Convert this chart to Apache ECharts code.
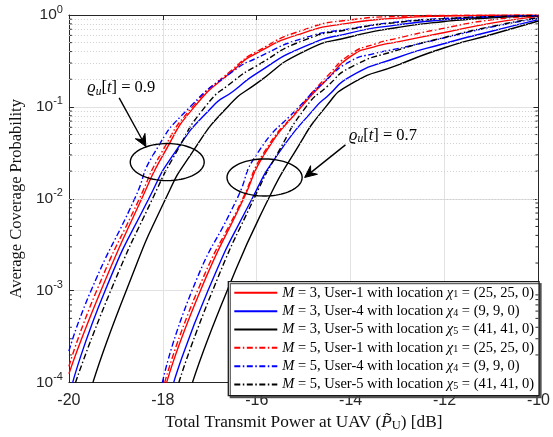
<!DOCTYPE html>
<html><head><meta charset="utf-8">
<script src="https://cdn.jsdelivr.net/npm/echarts@6/dist/echarts.min.js"></script>
<style>html,body{margin:0;padding:0;background:#fff}#c{width:553px;height:437px}</style>
</head><body><div id="c"></div>
<script>
// ---------- axis ticks ----------
const xTickValues = [-20, -18, -16, -14, -12, -10];
const yDecades = [1e-4, 1e-3, 1e-2, 1e-1, 1];

// ---------- legend entries ----------
const legendKeys = ['M3U1', 'M3U4', 'M3U5', 'M5U1', 'M5U4', 'M5U5'];
const legendTexts = [
  '{i|M} = 3, User-1 with location {i|χ}{sub|1} = (25, 25, 0)',
  '{i|M} = 3, User-4 with location {i|χ}{sub|4} = (9, 9, 0)',
  '{i|M} = 3, User-5 with location {i|χ}{sub|5} = (41, 41, 0)',
  '{i|M} = 5, User-1 with location {i|χ}{sub|1} = (25, 25, 0)',
  '{i|M} = 5, User-4 with location {i|χ}{sub|4} = (9, 9, 0)',
  '{i|M} = 5, User-5 with location {i|χ}{sub|5} = (41, 41, 0)'
];

// ---------- curves, rho = 0.9 (left group): [dB, probability] ----------
const m3u1_rho09 = [[-20, 1.25e-4], [-19.32, 1e-3], [-18.45, 1e-2], [-17.97, 0.0316], [-17.33, 0.1], [-16.5, 0.25], [-16, 0.385], [-15, 0.64], [-14, 0.82], [-13, 0.925], [-12, 0.975], [-11, 0.992], [-10, 0.998]];
const m3u4_rho09 = [[-19.92, 1e-4], [-19.23, 1e-3], [-18.3, 1e-2], [-17.75, 0.0316], [-16.95, 0.1], [-16.5, 0.148], [-16, 0.232], [-15, 0.45], [-14, 0.64], [-13, 0.78], [-12, 0.885], [-11, 0.95], [-10, 0.982]];
const m3u5_rho09 = [[-19.49, 1e-4], [-18.78, 1e-3], [-17.94, 1e-2], [-17.38, 0.0316], [-16.62, 0.1], [-16, 0.18], [-15, 0.40], [-14, 0.58], [-13, 0.73], [-12, 0.85], [-11, 0.93], [-10, 0.972]];
const m5u1_rho09 = [[-20, 1.5e-4], [-19.41, 1e-3], [-18.5, 1e-2], [-18.03, 0.0316], [-17.37, 0.1], [-16.5, 0.26], [-16, 0.40], [-15, 0.69], [-14, 0.885], [-13, 0.965], [-12, 0.99], [-11, 0.997], [-10, 0.999]];
const m5u4_rho09 = [[-20, 2.2e-4], [-19.53, 1e-3], [-18.6, 1e-2], [-18.18, 0.0316], [-17.42, 0.1], [-16.5, 0.245], [-16, 0.34], [-15, 0.56], [-14, 0.71], [-13, 0.84], [-12, 0.915], [-11, 0.96], [-10, 0.985]];
const m5u5_rho09 = [[-19.86, 1e-4], [-19.11, 1e-3], [-18.22, 1e-2], [-17.72, 0.0316], [-17.1, 0.1], [-16.5, 0.19], [-16, 0.28], [-15, 0.53], [-14, 0.70], [-13, 0.83], [-12, 0.91], [-11, 0.958], [-10, 0.983]];

// ---------- curves, rho = 0.7 (right group) ----------
const m3u1_rho07 = [[-17.92, 1e-4], [-17.2, 1e-3], [-16.28, 1e-2], [-15.82, 0.0316], [-15.05, 0.1], [-14.5, 0.2], [-14, 0.355], [-13.5, 0.45], [-13, 0.51], [-12, 0.645], [-11, 0.815], [-10, 0.965]];
const m3u4_rho07 = [[-17.77, 1e-4], [-17.04, 1e-3], [-16.1, 1e-2], [-15.53, 0.0316], [-14.74, 0.1], [-14.5, 0.13], [-14, 0.215], [-13, 0.345], [-12, 0.49], [-11, 0.665], [-10, 0.89]];
const m3u5_rho07 = [[-17.37, 1e-4], [-16.63, 1e-3], [-15.75, 1e-2], [-15.2, 0.0316], [-14.53, 0.1], [-14, 0.177], [-13, 0.285], [-12, 0.44], [-11, 0.614], [-10, 0.86]];
const m5u1_rho07 = [[-17.96, 1e-4], [-17.26, 1e-3], [-16.3, 1e-2], [-15.85, 0.0316], [-15.07, 0.1], [-14.5, 0.215], [-14, 0.375], [-13.5, 0.48], [-13, 0.56], [-12, 0.72], [-11, 0.885], [-10, 0.98]];
const m5u4_rho07 = [[-18.01, 1e-4], [-17.38, 1e-3], [-16.42, 1e-2], [-15.98, 0.0316], [-15.1, 0.1], [-14.5, 0.2], [-14, 0.315], [-13.5, 0.38], [-13, 0.43], [-12, 0.565], [-11, 0.74], [-10, 0.925]];
const m5u5_rho07 = [[-17.66, 1e-4], [-16.94, 1e-3], [-16.06, 1e-2], [-15.55, 0.0316], [-14.95, 0.1], [-14.5, 0.167], [-14, 0.27], [-13, 0.415], [-12, 0.57], [-11, 0.75], [-10, 0.935]];

// ---------- annotations (data coordinates) ----------
// ellipse: [centre dB, centre prob, half width dB, half height decades]
const ellipses = [[-17.906, 0.0251, 0.787, 0.2015], [-15.833, 0.01706, 0.80, 0.2015]];
// arrow: [start dB, start prob, tip dB, tip prob]
const arrows = [[-18.93, 0.1255, -18.36, 0.0370], [-14.11, 0.0386, -14.98, 0.01707]];
// label: [dB, prob, text]
const labels = [[-18.885, 0.1603, '{i|ϱ}{sub|u}[{i|t}] = 0.9'], [-13.31, 0.0484, '{i|ϱ}{sub|u}[{i|t}] = 0.7']];

const SERIF = 'Liberation Serif';
const SANS = 'Liberation Sans';

const RED = '#ff0000', BLUE = '#0000ff', BLACK = '#000000';
const DASHDOT = [6, 2.5, 1.5, 2.5];

const curveDefs = [
  ['M3U1', m3u1_rho09, RED, 'solid'], ['M3U1', m3u1_rho07, RED, 'solid'],
  ['M3U4', m3u4_rho09, BLUE, 'solid'], ['M3U4', m3u4_rho07, BLUE, 'solid'],
  ['M3U5', m3u5_rho09, BLACK, 'solid'], ['M3U5', m3u5_rho07, BLACK, 'solid'],
  ['M5U1', m5u1_rho09, RED, DASHDOT], ['M5U1', m5u1_rho07, RED, DASHDOT],
  ['M5U4', m5u4_rho09, BLUE, DASHDOT], ['M5U4', m5u4_rho07, BLUE, DASHDOT],
  ['M5U5', m5u5_rho09, BLACK, DASHDOT], ['M5U5', m5u5_rho07, BLACK, DASHDOT]
];

// minor log grid values (2..9 x each decade)
const yMinor = [];
for (let d = 0; d < yDecades.length - 1; d++) for (let k = 2; k <= 9; k++) yMinor.push(+(k * yDecades[d]).toPrecision(3));

const X_MIN = -20, X_MAX = -10;

const series = curveDefs.map((c, i) => ({
  type: 'line', name: c[0], data: c[1], symbol: 'none', showSymbol: false,
  smooth: 0.6, silent: true, animation: false, z: 3,
  lineStyle: { color: c[2], width: 1.4, type: c[3] }, itemStyle: { color: c[2] }
}));

// minor dotted grid via markLine on a hidden series
series.push({
  type: 'line', name: '_grid', data: [], silent: true, z: 1,
  markLine: { silent: true, symbol: ['none', 'none'], animation: false, label: { show: false },
    lineStyle: { color: '#cfcfcf', width: 1, type: [1, 2] },
    data: yMinor.map(v => ({ yAxis: v })) }
});
// minor ticks
series.push({
  type: 'custom', name: '_ticks', silent: true, z: 4, animation: false,
  data: yMinor.map(v => [X_MIN, v]), encode: { x: 0, y: 1 },
  renderItem(params, api) {
    const l = api.coord([X_MIN, api.value(1)]);
    const r = api.coord([X_MAX, api.value(1)]);
    return { type: 'group', children: [
      { type: 'line', shape: { x1: l[0], y1: l[1], x2: l[0] + 3, y2: l[1] }, style: { stroke: '#262626', lineWidth: 1 } },
      { type: 'line', shape: { x1: r[0], y1: r[1], x2: r[0] - 3, y2: r[1] }, style: { stroke: '#262626', lineWidth: 1 } }
    ] };
  }
});
// ellipses
series.push({
  type: 'custom', name: '_ell', silent: true, z: 5, animation: false, clip: false,
  data: ellipses, encode: { x: 0, y: 1 },
  renderItem(params, api) {
    const cx = api.value(0), cy = api.value(1), rx = api.value(2), ry = api.value(3);
    const c = api.coord([cx, cy]);
    const px = api.coord([cx + rx, cy]);
    const py = api.coord([cx, cy * Math.pow(10, ry)]);
    const a = px[0] - c[0], b = c[1] - py[1];
    const pts = [];
    for (let k = 0; k < 90; k++) { const t = k / 90 * Math.PI * 2; pts.push([c[0] + a * Math.cos(t), c[1] + b * Math.sin(t)]); }
    return { type: 'polygon', shape: { points: pts }, style: { fill: 'none', stroke: '#000', lineWidth: 1.4 } };
  }
});
// arrows
series.push({
  type: 'custom', name: '_arr', silent: true, z: 5, animation: false, clip: false,
  data: arrows, encode: { x: 0, y: 1 },
  renderItem(params, api) {
    const s = api.coord([api.value(0), api.value(1)]);
    const t = api.coord([api.value(2), api.value(3)]);
    const dx = t[0] - s[0], dy = t[1] - s[1], L = Math.hypot(dx, dy);
    const ux = dx / L, uy = dy / L, nx = -uy, ny = ux;
    const hl = 12, hw = 5.5;
    const back = [t[0] - ux * hl, t[1] - uy * hl];
    const notch = [t[0] - ux * hl * 0.65, t[1] - uy * hl * 0.65];
    return { type: 'group', children: [
      { type: 'line', shape: { x1: s[0], y1: s[1], x2: notch[0], y2: notch[1] }, style: { stroke: '#000', lineWidth: 1.4 } },
      { type: 'polygon', shape: { points: [t, [back[0] + nx * hw, back[1] + ny * hw], notch, [back[0] - nx * hw, back[1] - ny * hw]] }, style: { fill: '#000', stroke: '#000', lineWidth: 1 } }
    ] };
  }
});
// labels
series.push({
  type: 'custom', name: '_lbl', silent: true, z: 6, animation: false, clip: false,
  data: labels.map(l => [l[0], l[1]]), encode: { x: 0, y: 1 },
  renderItem(params, api) {
    const p = api.coord([api.value(0), api.value(1)]);
    return { type: 'text', x: p[0], y: p[1], style: {
      text: labels[params.dataIndex][2], align: 'center', verticalAlign: 'middle',
      fontFamily: SERIF, fontSize: 16.5, fill: '#000',
      rich: { i: { fontStyle: 'italic', fontFamily: SERIF, fontSize: 16.5 },
              sub: { fontStyle: 'italic', fontFamily: SERIF, fontSize: 11.5, padding: [7, 0, 0, 0] } }
    } };
  }
});

const axisCol = '#262626';
const option = {
  animation: false,
  backgroundColor: '#fff',
  grid: { left: 64.7, right: 9.5, top: 15, bottom: 45, containLabel: false },
  xAxis: [{
    type: 'value', min: X_MIN, max: X_MAX, interval: 2, position: 'bottom',
    axisLine: { show: true, lineStyle: { color: axisCol, width: 1 } },
    axisTick: { show: true, inside: true, length: 5, lineStyle: { color: axisCol } },
    axisLabel: { fontFamily: SANS, fontSize: 16, color: axisCol, margin: 10,
      formatter: v => xTickValues.includes(v) ? String(v) : '' },
    splitLine: { show: true, lineStyle: { color: '#e2e2e2', width: 1 } },
    name: 'Total Transmit Power at UAV ({i|P\u0303}{sub|U}) [dB]', nameLocation: 'middle', nameGap: 25,
    nameTextStyle: { fontFamily: SERIF, fontSize: 17.3, color: '#111',
      rich: { i: { fontStyle: 'italic', fontFamily: SERIF, fontSize: 17.3 },
              sub: { fontFamily: SERIF, fontSize: 12.5, padding: [7, 0, 0, 0] } } }
  }, {
    type: 'value', min: X_MIN, max: X_MAX, interval: 2, position: 'top',
    axisLine: { show: true, onZero: false, lineStyle: { color: axisCol, width: 1 } },
    axisTick: { show: true, inside: true, length: 5, lineStyle: { color: axisCol } },
    axisLabel: { show: false }, splitLine: { show: false }
  }],
  yAxis: [{
    type: 'log', logBase: 10, min: 1e-4, max: 1, position: 'left',
    axisLine: { show: true, lineStyle: { color: axisCol, width: 1 } },
    axisTick: { show: true, inside: true, length: 5, lineStyle: { color: axisCol } },
    axisLabel: { margin: 6, color: axisCol,
      formatter: v => '{b|10}{s|' + Math.round(Math.log10(v)) + '}',
      rich: { b: { fontFamily: SANS, fontSize: 15.5, color: axisCol },
              s: { fontFamily: SANS, fontSize: 11, color: axisCol, padding: [0, 0, 11, 0] } } },
    splitLine: { show: true, lineStyle: { color: '#e2e2e2', width: 1 } },
    name: 'Average Coverage Probability', nameLocation: 'middle', nameGap: 37,
    nameTextStyle: { fontFamily: SERIF, fontSize: 16.5, color: '#111' }
  }, {
    type: 'log', logBase: 10, min: 1e-4, max: 1, position: 'right',
    axisLine: { show: true, onZero: false, lineStyle: { color: axisCol, width: 1 } },
    axisTick: { show: true, inside: true, length: 5, lineStyle: { color: axisCol } },
    axisLabel: { show: false }, splitLine: { show: false }
  }],
  legend: {
    data: legendKeys, orient: 'vertical', left: 228.3, top: 281.7,
    itemWidth: 43, itemHeight: 14, itemGap: 3.35,
    padding: [3.6, 5, 3.6, 5],
    backgroundColor: '#fff', borderColor: '#1a1a1a', borderWidth: 1.3, borderRadius: 0,
    shadowColor: 'rgba(70,70,70,0.85)', shadowBlur: 0, shadowOffsetX: 2, shadowOffsetY: 2,
    selectedMode: false,
    itemStyle: { opacity: 0 },
    formatter: n => legendTexts[legendKeys.indexOf(n)],
    textStyle: { fontFamily: SERIF, fontSize: 14.5, color: '#000', lineHeight: 14,
      rich: { i: { fontStyle: 'italic', fontFamily: SERIF, fontSize: 14.5, lineHeight: 14 },
              sub: { fontFamily: SERIF, fontSize: 10, lineHeight: 7, verticalAlign: 'bottom' } } }
  },
  series: series
};

const chart = echarts.init(document.getElementById('c'), null, { renderer: 'canvas' });
chart.setOption(option);
</script>
</body></html>
